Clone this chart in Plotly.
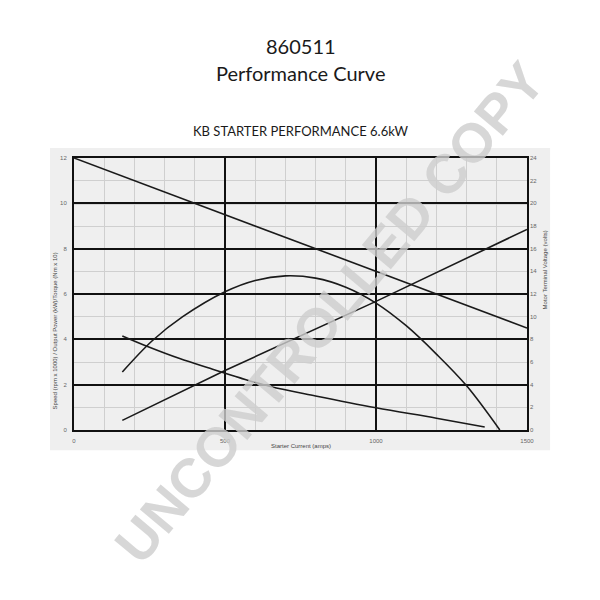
import plotly.graph_objects as go

# ---- data ----
speed_x = [0, 500, 1000, 1500]
speed_y = [12, 9.5, 7.0, 4.5]

power_x = [160, 260, 360, 500, 600, 700, 800, 900, 1000, 1100, 1200, 1300, 1410]
power_y = [2.56, 3.95, 5.0, 6.1, 6.6, 6.8, 6.7, 6.3, 5.6, 4.6, 3.35, 1.95, 0.0]

torque_x = [160, 250, 350, 450, 550, 650, 800, 1000, 1200, 1360]
torque_y = [4.15, 3.65, 3.15, 2.72, 2.3, 1.92, 1.5, 0.98, 0.52, 0.13]

volt_x = [160, 500, 1000, 1500]
volt_y = [0.85, 5.25, 11.35, 17.7]

x_ticks = [0, 500, 1000, 1500]
y_ticks = [0, 2, 4, 6, 8, 10, 12]
y2_ticks = list(range(0, 26, 2))

fig = go.Figure()
line_style = dict(color="#1a1a1a", width=1.6)
fig.add_trace(go.Scatter(x=speed_x, y=speed_y, mode="lines", line=line_style, showlegend=False))
fig.add_trace(go.Scatter(x=power_x, y=power_y, mode="lines", line=dict(line_style, shape="spline"), showlegend=False))
fig.add_trace(go.Scatter(x=torque_x, y=torque_y, mode="lines", line=dict(line_style, shape="spline"), showlegend=False))
fig.add_trace(go.Scatter(x=volt_x, y=volt_y, mode="lines", line=line_style, yaxis="y2", showlegend=False))

tickfont = dict(family="Liberation Sans", size=6, color="#666")

fig.update_layout(
    width=600, height=600,
    margin=dict(l=66, r=81, t=150, b=178),
    paper_bgcolor="white",
    plot_bgcolor="#efefef",
    font=dict(family="Lato"),
    xaxis=dict(
        range=[0, 1500], tickvals=x_ticks, ticktext=[str(v) for v in x_ticks],
        showgrid=True, gridcolor="#111", gridwidth=2,
        minor=dict(dtick=100, showgrid=True, gridcolor="#cfcfcf", gridwidth=1),
        showline=True, linecolor="#111", linewidth=2, mirror=True,
        zeroline=False, ticks="", tickfont=tickfont, ticklabelstandoff=4,
    ),
    yaxis=dict(
        range=[0, 12], tickvals=y_ticks,
        showgrid=True, gridcolor="#111", gridwidth=2,
        minor=dict(dtick=1, showgrid=True, gridcolor="#cfcfcf", gridwidth=1),
        showline=True, linecolor="#111", linewidth=2, mirror=True,
        zeroline=False, ticks="", tickfont=tickfont, ticklabelstandoff=4,
    ),
    yaxis2=dict(
        range=[0, 24], tickvals=y2_ticks, overlaying="y", side="right",
        showgrid=False, zeroline=False, ticks="", tickfont=tickfont, ticklabelstandoff=2,
    ),
)

# light grey panel behind the chart
fig.add_shape(type="rect", xref="paper", yref="paper", x0=-0.053, x1=1.051, y0=-0.074, y1=1.037,
              fillcolor="#efefef", line=dict(width=0), layer="below")
# the y=10 grid line is drawn lighter in the reference
fig.add_shape(type="line", xref="paper", yref="y", x0=0, x1=1, y0=10, y1=10,
              line=dict(color="#8a8a8a", width=2), layer="between")

def note(text, x, y, size, color="#1a1a1a", family="Lato", angle=0):
    fig.add_annotation(text=text, xref="paper", yref="paper", x=x, y=y, showarrow=False,
                       xanchor="center", yanchor="middle", textangle=angle,
                       font=dict(family=family, size=size, color=color))

note("860511", 0.5, 1.413, 20)
note("Performance Curve", 0.5, 1.314, 20)
note("KB STARTER PERFORMANCE 6.6kW", 0.5, 1.100, 13)
note("Starter Current (amps)", 0.5, -0.058, 6, "#444", "Liberation Sans")
note("Speed (rpm x 1000) / Output Power (kW)/Torque (Nm x 10)", -0.0426, 0.365, 6, "#444",
     "Liberation Sans", -90)
note("Motor Terminal Voltage (volts)", 1.039, 0.589, 6, "#444", "Liberation Sans", -90)

# watermark
note("<b>UNCONTROLLED COPY</b>", 0.565, 0.435, 55, "rgba(205,205,205,0.8)", "Liberation Sans", -50)

fig.write_html("out.html")
